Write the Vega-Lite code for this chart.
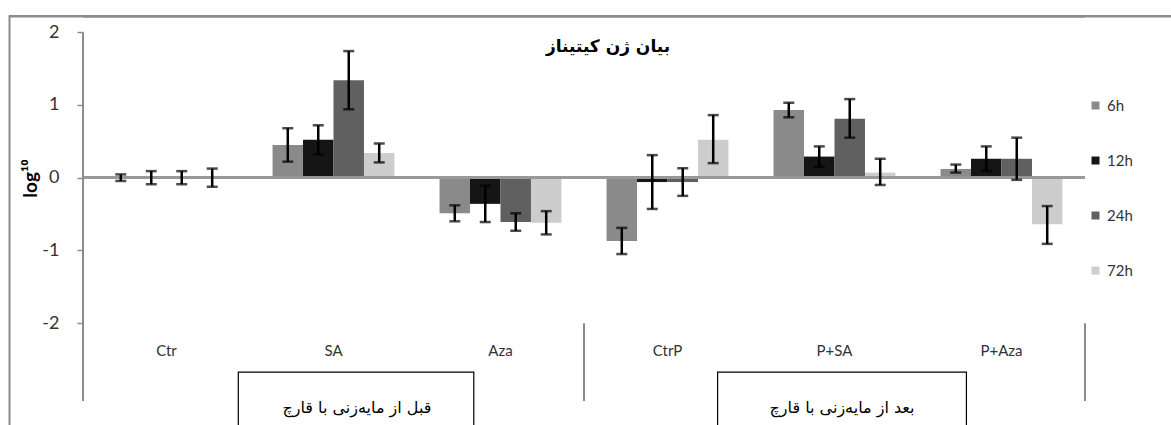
{
  "$schema": "https://vega.github.io/schema/vega-lite/v6.json",
  "width": 1002,
  "height": 387,
  "autosize": {"type": "none"},
  "padding": {"left": 83, "top": 14, "right": 86, "bottom": 24},
  "background": "white",
  "config": {"view": {"stroke": null}, "font": "Lato"},
  "title": {"text": "بیان ژن کیتیناز", "font": "DejaVu Sans", "fontWeight": "bold", "fontSize": 17, "color": "#000", "anchor": "middle", "dx": 24, "offset": -42},
  "data": {"values": [
    {"cat": "Ctr", "time": "6h", "value": 0, "lo": -0.045, "hi": 0.045},
    {"cat": "Ctr", "time": "12h", "value": 0, "lo": -0.09, "hi": 0.09},
    {"cat": "Ctr", "time": "24h", "value": 0, "lo": -0.09, "hi": 0.09},
    {"cat": "Ctr", "time": "72h", "value": 0, "lo": -0.125, "hi": 0.125},
    {"cat": "SA", "time": "6h", "value": 0.45, "lo": 0.22, "hi": 0.68},
    {"cat": "SA", "time": "12h", "value": 0.52, "lo": 0.32, "hi": 0.72},
    {"cat": "SA", "time": "24h", "value": 1.34, "lo": 0.94, "hi": 1.74},
    {"cat": "SA", "time": "72h", "value": 0.34, "lo": 0.21, "hi": 0.47},
    {"cat": "Aza", "time": "6h", "value": -0.49, "lo": -0.6, "hi": -0.38},
    {"cat": "Aza", "time": "12h", "value": -0.36, "lo": -0.61, "hi": -0.11},
    {"cat": "Aza", "time": "24h", "value": -0.61, "lo": -0.73, "hi": -0.49},
    {"cat": "Aza", "time": "72h", "value": -0.62, "lo": -0.78, "hi": -0.46},
    {"cat": "CtrP", "time": "6h", "value": -0.87, "lo": -1.05, "hi": -0.69},
    {"cat": "CtrP", "time": "12h", "value": -0.06, "lo": -0.43, "hi": 0.31},
    {"cat": "CtrP", "time": "24h", "value": -0.06, "lo": -0.25, "hi": 0.13},
    {"cat": "CtrP", "time": "72h", "value": 0.52, "lo": 0.2, "hi": 0.86},
    {"cat": "P+SA", "time": "6h", "value": 0.93, "lo": 0.83, "hi": 1.03},
    {"cat": "P+SA", "time": "12h", "value": 0.29, "lo": 0.15, "hi": 0.43},
    {"cat": "P+SA", "time": "24h", "value": 0.81, "lo": 0.55, "hi": 1.08},
    {"cat": "P+SA", "time": "72h", "value": 0.07, "lo": -0.1, "hi": 0.26},
    {"cat": "P+Aza", "time": "6h", "value": 0.12, "lo": 0.07, "hi": 0.18},
    {"cat": "P+Aza", "time": "12h", "value": 0.26, "lo": 0.09, "hi": 0.43},
    {"cat": "P+Aza", "time": "24h", "value": 0.26, "lo": -0.03, "hi": 0.55},
    {"cat": "P+Aza", "time": "72h", "value": -0.64, "lo": -0.91, "hi": -0.39}
  ]},
  "encoding": {
    "x": {"field": "cat", "type": "nominal", "sort": ["Ctr", "SA", "Aza", "CtrP", "P+SA", "P+Aza"],
      "scale": {"paddingInner": 0, "paddingOuter": 0},
      "axis": {"title": null, "domain": false, "ticks": false, "labelAngle": 0, "labelFontSize": 15, "labelColor": "#333", "offset": -60, "labelPadding": 2, "labelFont": "Lato"}}
  },
  "layer": [
    {
      "mark": {"type": "bar"},
      "encoding": {
        "xOffset": {"field": "time", "type": "nominal", "sort": ["6h", "12h", "24h", "72h"], "scale": {"paddingInner": 0, "paddingOuter": 0.74}},
        "y": {"field": "value", "type": "quantitative", "scale": {"domain": [-3.07, 2.25], "nice": false, "zero": false},
          "axis": {"values": [2, 1, 0, -1, -2], "labelExpr": "'' + datum.value", "grid": false, "domain": false, "tickColor": "#8c8c8c", "tickWidth": 1.5, "tickSize": 6, "labelFontSize": 18, "labelColor": "#333", "labelPadding": 18, "labelFont": "Lato",
            "title": "log¹⁰", "titleFontSize": 19, "titleFontWeight": "bold", "titleColor": "#000", "titleFont": "Lato", "titleX": -53, "titleY": 164, "titleAlign": "center", "titleBaseline": "middle"}},
        "color": {"field": "time", "type": "nominal", "sort": ["6h", "12h", "24h", "72h"],
          "scale": {"domain": ["6h", "12h", "24h", "72h"], "range": ["#8a8a8a", "#151515", "#606060", "#cdcdcd"]},
          "legend": {"orient": "none", "legendX": 1005, "legendY": 84, "title": null, "symbolType": "square", "symbolSize": 64, "symbolStrokeWidth": 0, "labelFontSize": 15, "labelColor": "#333", "labelFont": "Lato", "rowPadding": 39}}
      }
    },
    {
      "mark": {"type": "rule", "color": "#999", "strokeWidth": 2},
      "encoding": {"y": {"datum": 0}, "x": null}
    },
    {
      "data": {"values": [{"cat": "Ctr"}]},
      "mark": {"type": "rule", "color": "#8c8c8c", "strokeWidth": 2},
      "encoding": {
        "x": {"field": "cat", "type": "nominal", "bandPosition": 0},
        "y": {"datum": 2},
        "y2": {"datum": -3.07}
      }
    },
    {
      "mark": {"type": "rule", "color": "#000", "strokeWidth": 2.5},
      "encoding": {
        "xOffset": {"field": "time", "type": "nominal", "sort": ["6h", "12h", "24h", "72h"]},
        "y": {"field": "lo", "type": "quantitative"},
        "y2": {"field": "hi"}
      }
    },
    {
      "mark": {"type": "tick", "color": "#000", "thickness": 2.5, "size": 11, "orient": "horizontal"},
      "encoding": {
        "xOffset": {"field": "time", "type": "nominal", "sort": ["6h", "12h", "24h", "72h"]},
        "y": {"field": "lo", "type": "quantitative"}
      }
    },
    {
      "mark": {"type": "tick", "color": "#000", "thickness": 2.5, "size": 11, "orient": "horizontal"},
      "encoding": {
        "xOffset": {"field": "time", "type": "nominal", "sort": ["6h", "12h", "24h", "72h"]},
        "y": {"field": "hi", "type": "quantitative"}
      }
    },
    {
      "data": {"values": [{"cat": "Aza"}, {"cat": "P+Aza"}]},
      "mark": {"type": "rule", "color": "#8c8c8c", "strokeWidth": 2},
      "encoding": {
        "x": {"field": "cat", "type": "nominal", "bandPosition": 1},
        "y": {"datum": -2},
        "y2": {"datum": -3.07}
      }
    },
    {
      "data": {"values": [{"label": "قبل از مایه‌زنی با قارچ"}]},
      "mark": {"type": "rect", "fill": "white", "stroke": "#000", "strokeWidth": 1.2, "clip": false},
      "encoding": {
        "x": {"datum": "Ctr", "bandPosition": 0.93},
        "x2": {"datum": "Aza", "bandPosition": 0.34},
        "y": {"datum": -2.673},
        "y2": {"datum": -3.6}
      }
    },
    {
      "data": {"values": [{"label": "بعد از مایه‌زنی با قارچ"}]},
      "mark": {"type": "rect", "fill": "white", "stroke": "#000", "strokeWidth": 1.2, "clip": false},
      "encoding": {
        "x": {"datum": "CtrP", "bandPosition": 0.8},
        "x2": {"datum": "P+Aza", "bandPosition": 0.29},
        "y": {"datum": -2.673},
        "y2": {"datum": -3.6}
      }
    },
    {
      "data": {"values": [{"label": "قبل از مایه‌زنی با قارچ"}]},
      "mark": {"type": "text", "font": "DejaVu Sans", "fontSize": 16, "color": "#000", "baseline": "middle", "align": "center"},
      "encoding": {
        "x": {"datum": "SA", "bandPosition": 0.64},
        "y": {"datum": -3.17},
        "text": {"field": "label"}
      }
    },
    {
      "data": {"values": [{"label": "بعد از مایه‌زنی با قارچ"}]},
      "mark": {"type": "text", "font": "DejaVu Sans", "fontSize": 16, "color": "#000", "baseline": "middle", "align": "center"},
      "encoding": {
        "x": {"datum": "P+SA", "bandPosition": 0.545},
        "y": {"datum": -3.17},
        "text": {"field": "label"}
      }
    },
    {
      "data": {"values": [{"label": "frame"}]},
      "mark": {"type": "rule", "color": "#8c8c8c", "strokeWidth": 2.5, "clip": false},
      "encoding": {
        "y": {"datum": 2.22},
        "x": null
      }
    },
    {
      "data": {"values": [{"label": "frame"}]},
      "mark": {"type": "rule", "color": "#8c8c8c", "strokeWidth": 2.5, "clip": false},
      "encoding": {
        "x": {"datum": "P+Aza", "bandPosition": 1.6},
        "x2": {"datum": "Ctr", "bandPosition": -0.445},
        "y": {"datum": 2.22}
      }
    },
    {
      "data": {"values": [{"label": "frame"}]},
      "mark": {"type": "rule", "color": "#8c8c8c", "strokeWidth": 2, "clip": false},
      "encoding": {
        "x": {"datum": "Ctr", "bandPosition": -0.44},
        "y": {"datum": 2.22},
        "y2": {"datum": -4}
      }
    }
  ]
}
